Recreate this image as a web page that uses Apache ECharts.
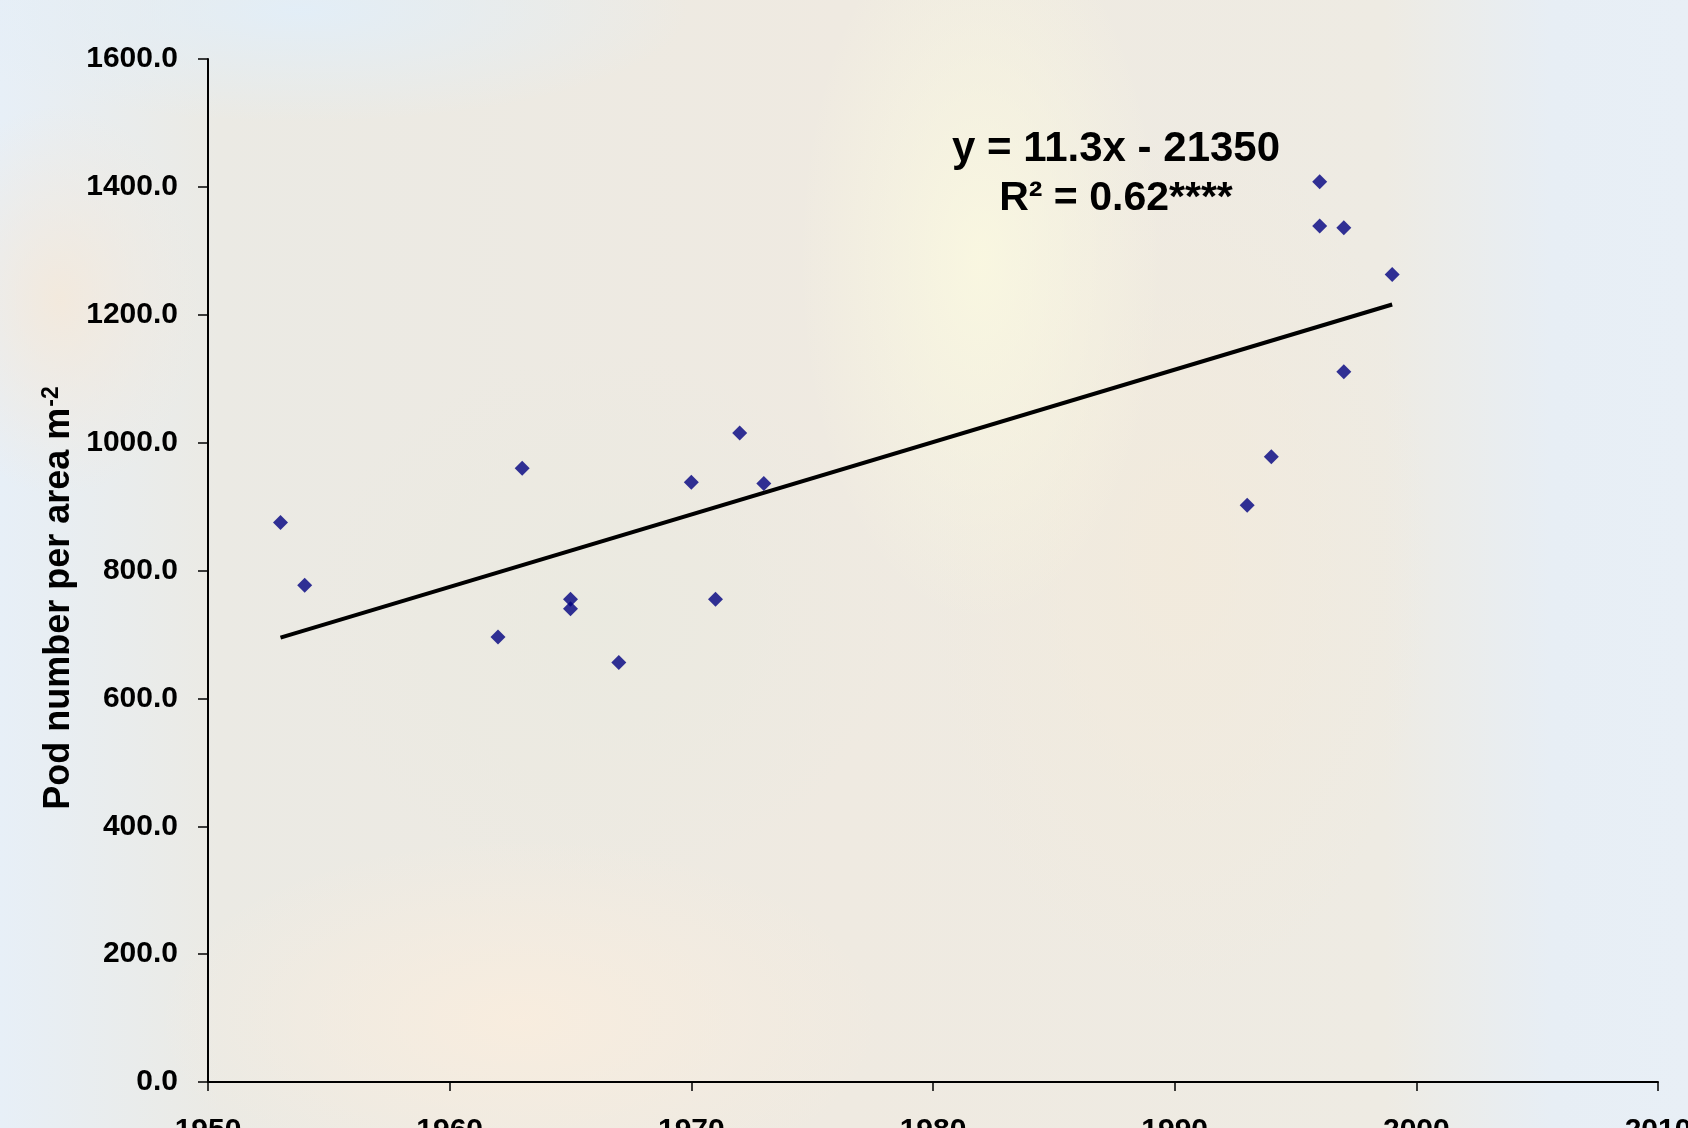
<!DOCTYPE html>
<html><head><meta charset="utf-8">
<script src="https://cdn.jsdelivr.net/npm/echarts@6/dist/echarts.min.js"></script>
<style>
html,body{margin:0;padding:0;width:1688px;height:1128px;overflow:hidden;background:#ece9e2;}
#bg{position:absolute;left:0;top:0;width:1688px;height:1128px;
background:
 radial-gradient(ellipse 520px 150px at 300px 10px, rgba(226,238,248,0.95), rgba(226,238,248,0) 75%),
 radial-gradient(ellipse 260px 520px at 980px 260px, rgba(250,248,224,0.9), rgba(250,248,224,0) 70%),
 radial-gradient(ellipse 420px 380px at 600px 620px, rgba(234,234,224,0.8), rgba(234,234,224,0) 70%),
 radial-gradient(ellipse 520px 260px at 520px 1020px, rgba(249,237,222,0.9), rgba(249,237,222,0) 70%),
 radial-gradient(ellipse 360px 620px at 1180px 560px, rgba(242,234,220,0.9), rgba(242,234,220,0) 70%),
 radial-gradient(ellipse 200px 280px at 60px 300px, rgba(243,233,220,0.95), rgba(243,233,220,0) 70%),
 linear-gradient(90deg, #e7eff7 0%, #ebeae4 13%, #efeae1 50%, #eeebe3 82%, #e7eef5 92%, #e8eff6 100%);
}
#chart{position:absolute;left:0;top:0;width:1688px;height:1128px;}
</style>
</head><body>
<div id="bg"></div>
<div id="chart"></div>
<script>
const years = [1953,1954,1962,1963,1965,1965,1967,1970,1971,1972,1973,1993,1994,1996,1996,1997,1997,1999];
const pods  = [875,777,696,960,755,740,656,938,755,1015,936,902,978,1408,1339,1336,1111,1263];
const trendYears  = [1953,1999];
const trendValues = [695,1216];
const equationText = 'y = 11.3x - 21350';
const r2Text = 'R² = 0.62****';
const yAxisTitle = 'Pod number per area m';
const yAxisSup = '-2';

const FONT = '"Liberation Sans", Arial, sans-serif';
const chart = echarts.init(document.getElementById('chart'), null, {renderer:'canvas'});
const axisCommon = {
  axisLine:{show:true, onZero:false, lineStyle:{color:'#000', width:2}},
  axisTick:{show:true, inside:false, lineStyle:{color:'#000', width:1.5}},
  splitLine:{show:false},
  axisLabel:{color:'#000', fontWeight:'bold', fontSize:30, fontFamily:FONT}
};
chart.setOption({
  backgroundColor:'transparent',
  animation:false,
  grid:{left:208, right:30, top:59, bottom:46, outerBoundsMode:'none', containLabel:false},
  xAxis:Object.assign({}, axisCommon, {
    type:'value', min:1950, max:2010, interval:10,
    axisTick:Object.assign({}, axisCommon.axisTick, {length:9}),
    axisLabel:Object.assign({}, axisCommon.axisLabel, {margin:34, formatter:v=>String(v)})
  }),
  yAxis:Object.assign({}, axisCommon, {
    type:'value', min:0, max:1600, interval:200,
    axisTick:Object.assign({}, axisCommon.axisTick, {length:10}),
    axisLabel:Object.assign({}, axisCommon.axisLabel, {margin:30, formatter:v=>v.toFixed(1)})
  }),
  series:[
    {type:'line', data:trendYears.map((y,i)=>[y,trendValues[i]]), showSymbol:false, silent:true,
     lineStyle:{color:'#000', width:4}, z:2},
    {type:'scatter', data:years.map((y,i)=>[y,pods[i]]), symbol:'diamond', symbolSize:15,
     itemStyle:{color:'#000080'}, z:3}
  ],
  graphic:[
    {type:'text', x:1116, y:149, z:10, style:{text:equationText, align:'center', verticalAlign:'middle',
      fontSize:42, fontWeight:'bold', fontFamily:FONT, fill:'#000'}},
    {type:'text', x:1116, y:199, z:10, style:{text:r2Text, align:'center', verticalAlign:'middle',
      fontSize:41, fontWeight:'bold', fontFamily:FONT, fill:'#000'}},
    {type:'text', x:59, y:598, rotation:Math.PI/2, z:10, style:{
      text:'{a|'+yAxisTitle+'}{b|'+yAxisSup+'}', align:'center', verticalAlign:'middle', fill:'#000',
      rich:{a:{fontSize:36, fontWeight:'bold', fontFamily:FONT, fill:'#000'},
            b:{fontSize:23, fontWeight:'bold', fontFamily:FONT, fill:'#000', verticalAlign:'top', padding:[0,0,14,1]}}}}
  ]
});
</script>
</body></html>
